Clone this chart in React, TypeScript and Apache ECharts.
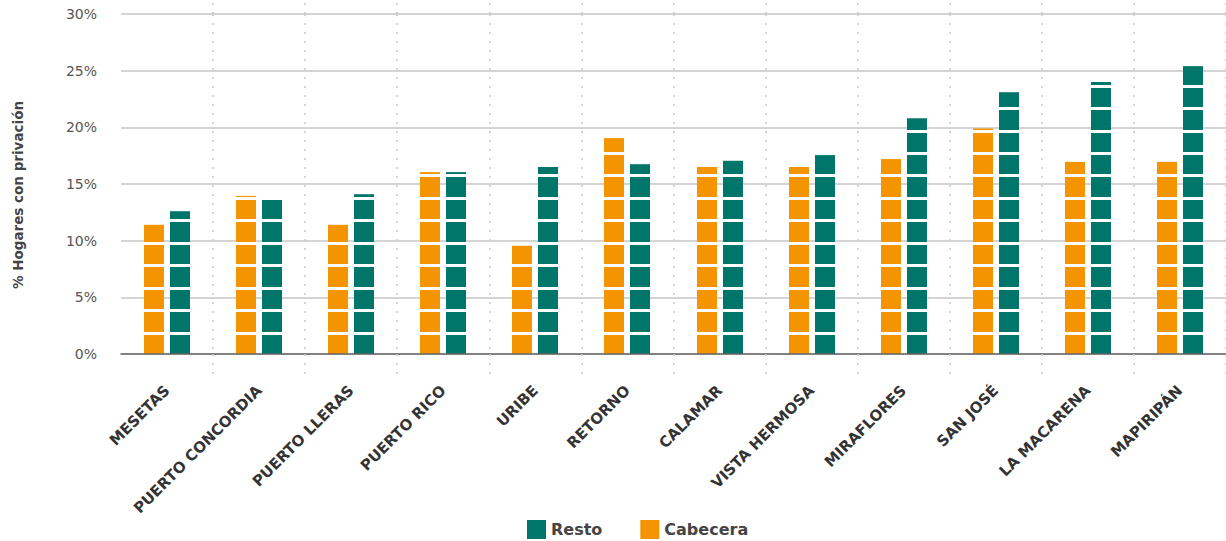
import React, { useEffect, useRef } from "react";
import * as echarts from "echarts";

const categories = [
  "MESETAS",
  "PUERTO CONCORDIA",
  "PUERTO LLERAS",
  "PUERTO RICO",
  "URIBE",
  "RETORNO",
  "CALAMAR",
  "VISTA HERMOSA",
  "MIRAFLORES",
  "SAN JOSÉ",
  "LA MACARENA",
  "MAPIRIPÁN",
];
const cabecera = [11.4, 13.95, 11.4, 16.05, 9.55, 19.05, 16.5, 16.5, 17.2, 19.9, 16.95, 16.95];
const resto = [12.6, 13.6, 14.1, 16.05, 16.5, 16.75, 17.05, 17.55, 20.8, 23.1, 24.0, 25.4];
const yTicks = [0, 5, 10, 15, 20, 25, 30];
const yAxisTitle = "% Hogares con privación";
const seriesNames = { resto: "Resto", cabecera: "Cabecera" };

const ORANGE = "#F39400";
const TEAL = "#00766A";
const FONT = "DejaVu Sans";

// block styling (pixels)
const BAR_W = 20;
const BLOCK_GAP = 3;
const BLOCK_PITCH = 22.45;

export default function App() {
  const ref = useRef<HTMLDivElement>(null);
  useEffect(() => {
    document.body.style.margin = "0";
    const chart = echarts.init(ref.current!, undefined, { renderer: "svg" });
    const dotted = { color: "#c9c9c9", width: 1.5, type: [2, 7] as any };
    const skipFirst = (i: number) => i !== 0;

    const blocks = (name: string, values: number[], color: string, offset: number) => ({
      name,
      type: "custom",
      xAxisIndex: 0,
      yAxisIndex: 0,
      itemStyle: { color },
      data: values.map((v, i) => [i, v]),
      encode: { x: 0, y: 1 },
      renderItem: (params: any, api: any) => {
        const idx = api.value(0);
        const val = api.value(1);
        const base = api.coord([idx, 0]);
        const top = api.coord([idx, val]);
        const cx = Math.round(base[0] + offset);
        const children: any[] = [];
        for (let k = 0; ; k++) {
          const y0 = Math.round(base[1] - k * BLOCK_PITCH);
          if (y0 <= top[1] + 0.01) break;
          const nextBottom = Math.round(base[1] - (k + 1) * BLOCK_PITCH);
          const yTop = Math.max(nextBottom + BLOCK_GAP, top[1]);
          children.push({
            type: "rect",
            shape: { x: cx - BAR_W / 2, y: yTop, width: BAR_W, height: y0 - yTop },
            style: { fill: color },
          });
        }
        return { type: "group", children };
      },
    });

    chart.setOption({
      animation: false,
      grid: [
        { left: 121, width: 1107, top: 14, height: 340 },
        { left: 121, width: 1107, top: 3, height: 11 },
      ],
      legend: {
        data: [seriesNames.resto, seriesNames.cabecera],
        left: 522,
        top: 515,
        icon: "rect",
        itemWidth: 19,
        itemHeight: 19,
        itemGap: 38,
        textStyle: { fontFamily: FONT, fontWeight: "bold", fontSize: 16, color: "#444" },
      },
      xAxis: [
        {
          type: "category",
          data: categories,
          gridIndex: 0,
          boundaryGap: true,
          axisLine: { show: true, lineStyle: { color: "#666", width: 1.5 } },
          axisTick: { show: true, interval: skipFirst, length: 26, lineStyle: dotted },
          splitLine: { show: true, interval: skipFirst, lineStyle: dotted },
          axisLabel: {
            interval: 0,
            rotate: 45,
            margin: 34,
            fontFamily: FONT,
            fontWeight: "bold",
            fontSize: 15,
            color: "#333",
          },
          z: 3,
        },
        {
          type: "category",
          data: categories,
          gridIndex: 1,
          boundaryGap: true,
          axisLine: { show: false },
          axisTick: { show: false },
          axisLabel: { show: false },
          splitLine: { show: true, interval: skipFirst, lineStyle: dotted },
        },
      ],
      yAxis: [
        {
          type: "value",
          gridIndex: 0,
          min: yTicks[0],
          max: yTicks[yTicks.length - 1],
          interval: 5,
          axisLine: { show: false },
          axisTick: { show: false },
          splitLine: { show: true, lineStyle: { color: "#c6c6c6", width: 1.5 } },
          axisLabel: {
            margin: 24,
            fontFamily: FONT,
            fontSize: 14,
            color: "#555",
            formatter: (v: number) => `${v}%`,
          },
        },
        { type: "value", gridIndex: 1, show: false },
      ],
      graphic: [
        {
          type: "text",
          x: 18,
          y: 195,
          rotation: Math.PI / 2,
          style: {
            text: yAxisTitle,
            fontFamily: FONT,
            fontWeight: "bold",
            fontSize: 13.5,
            fill: "#444",
            textAlign: "center",
            textVerticalAlign: "middle",
          },
        },
      ],
      series: [
        blocks(seriesNames.cabecera, cabecera, ORANGE, -13),
        blocks(seriesNames.resto, resto, TEAL, 13),
      ],
    });
    return () => chart.dispose();
  }, []);
  return <div ref={ref} style={{ width: 1226, height: 541 }} />;
}
